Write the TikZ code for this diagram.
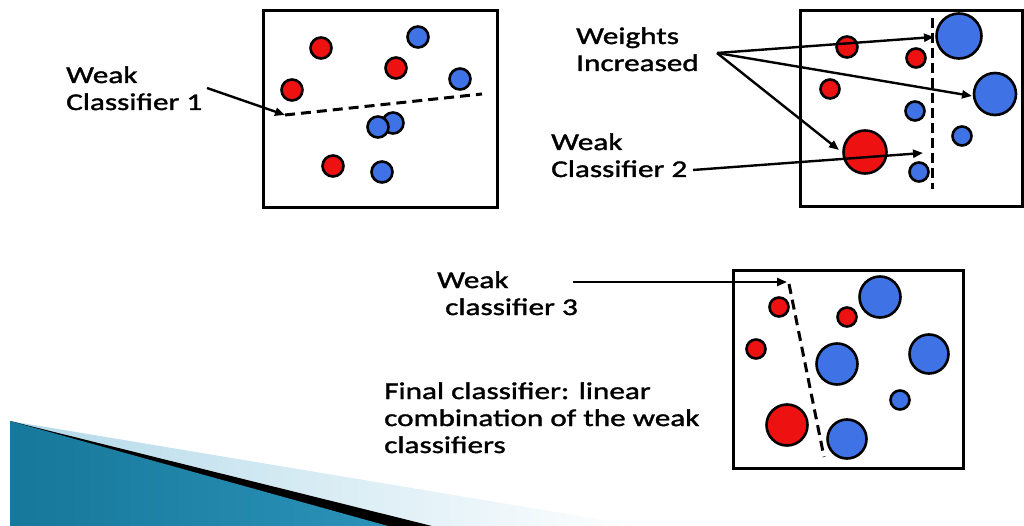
\documentclass[tikz,border=0pt]{standalone}
\usepackage{fontspec}
\newfontfamily\lblfont[FakeStretch=1.3,FakeBold=1.5]{Carlito}
\usetikzlibrary{arrows.meta}
\definecolor{dotred}{HTML}{EE1111}
\definecolor{dotblue}{HTML}{3F72E4}
\definecolor{bandlight}{HTML}{B2D9E9}
\definecolor{tealdark}{HTML}{16789A}
\definecolor{tealmid}{HTML}{46ADD0}
\definecolor{tealend}{HTML}{2B92B8}
\begin{document}
\begin{tikzpicture}[x=1pt,y=-1pt,
  frame/.style={draw=black,line width=3pt},
  rdot/.style={circle,draw=black,line width=2.6pt,fill=dotred,inner sep=0pt,minimum size=#1},
  bdot/.style={circle,draw=black,line width=2.6pt,fill=dotblue,inner sep=0pt,minimum size=#1},
  split/.style={dash pattern=on 10pt off 6pt,line width=3pt},
  pointer/.style={line width=2.4pt,-{Triangle[length=10pt,width=8pt]}},
  lbl/.style={font=\lblfont\fontsize{24}{27}\selectfont,align=left,inner sep=0pt,anchor=base west}]
\useasboundingbox (0,0) rectangle (1024,526);

% corner swoosh
\shade[left color=bandlight,right color=white] (10,421) -- (640,526) -- (10,526) -- cycle;
\fill[black] (10,421) -- (432,526) -- (10,526) -- cycle;
\shade[left color=tealdark,middle color=tealmid,right color=tealend] (10,421) -- (388,526) -- (10,526) -- cycle;

% ---- round 1 ----
\draw[frame] (263,11) rectangle (497,208);
\node[rdot=21] (a1) at (321,48) {};
\node[bdot=21] (a2) at (418,37) {};
\node[rdot=21] (a3) at (396,68) {};
\node[rdot=21] (a4) at (292,90) {};
\node[bdot=21] (a5) at (460,79) {};
\node[bdot=21] (a6) at (393,123) {};
\node[bdot=21] (a7) at (378,127) {};
\node[rdot=21] (a8) at (333,166) {};
\node[bdot=21] (a9) at (382,172) {};
\coordinate (c1s) at (285,115);
\coordinate (c1e) at (482,94);
\draw[split] (c1s) -- (c1e);
% multi-line labels are placed by the baseline of their last line
\node[lbl] (l1) at (66,110) {Weak\\Classifier 1};
\coordinate (l1p) at (207,88);
\draw[pointer] (l1p) -- (c1s);

% ---- round 2 ----
\draw[frame] (800,11) rectangle (1022,207);
\node[bdot=45] (b1) at (959,36) {};
\node[rdot=21] (b2) at (847,47) {};
\node[rdot=19] (b3) at (916,58) {};
\node[rdot=19] (b4) at (830,89) {};
\node[bdot=42] (b5) at (995,94) {};
\node[bdot=19] (b6) at (915,111) {};
\node[bdot=19] (b7) at (962,136) {};
\node[rdot=43] (b8) at (865,152) {};
\node[bdot=19] (b9) at (919,172) {};
\coordinate (c2s) at (932,18);
\coordinate (c2e) at (932,189);
\draw[split,dash pattern=on 10pt off 5pt] (c2s) -- (c2e);
\node[lbl] (l2) at (576,71) {Weights\\Increased};
\coordinate (l2p) at (717,53);
\coordinate (t1) at (934,37);
\coordinate (t2) at (972,96);
\coordinate (t3) at (839,150);
\draw[pointer] (l2p) -- (t1);
\draw[pointer] (l2p) -- (t2);
\draw[pointer] (l2p) -- (t3);
\node[lbl] (l3) at (551,177) {Weak\\Classifier 2};
\coordinate (l3p) at (693,170);
\coordinate (t4) at (923,153);
\draw[pointer] (l3p) -- (t4);

% ---- round 3 ----
\draw[frame] (733,271) rectangle (963,468);
\node[rdot=19] (d1) at (779,307) {};
\node[rdot=19] (d2) at (847,317) {};
\node[bdot=41] (d3) at (880,297) {};
\node[rdot=19] (d4) at (756,349) {};
\node[bdot=41] (d5) at (837,364) {};
\node[bdot=39] (d6) at (929,354) {};
\node[bdot=19] (d7) at (900,400) {};
\node[rdot=41] (d8) at (787,425) {};
\node[bdot=39] (d9) at (847,439) {};
\coordinate (c3s) at (789,284);
\coordinate (c3e) at (824,457);
\draw[split] (c3s) -- (c3e);
\node[lbl] (l4) at (437,315) {Weak\\\hspace*{8pt}classifier 3};
\coordinate (l4p) at (573,282);
\coordinate (t5) at (787,282);
\draw[pointer] (l4p) -- (t5);

\node[lbl] (l5) at (384,453) {Final classifier: linear\\combination of the weak\\classifiers};
\end{tikzpicture}
\end{document}
